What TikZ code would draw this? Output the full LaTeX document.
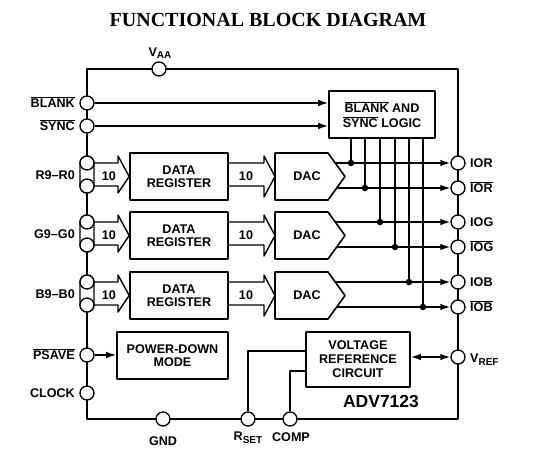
\documentclass[tikz,border=0pt]{standalone}
\usepackage{fontspec}
\setmainfont{Liberation Sans}
\newfontfamily\titlefont{Liberation Serif}
\usetikzlibrary{arrows.meta}
\newcommand{\ovl}[1]{$\overline{\mbox{#1}}$}
\newcommand{\pinsub}[1]{\raisebox{-0.45ex}{\fontsize{10}{10}\selectfont #1}}
\begin{document}
\begin{tikzpicture}[x=1pt, y=-1pt, line join=round, >={Latex[length=10pt,width=6.5pt]},
	font=\bfseries\fontsize{12.6}{13.5}\selectfont,
	pinc/.style={draw, circle, fill=white, line width=1.3pt, minimum size=14pt, inner sep=0pt},
	blk/.style={draw, line width=1.6pt, align=center, inner sep=0pt},
	wire/.style={line width=1.4pt},
	jdot/.style={circle, fill, inner sep=0pt, minimum size=6.5pt},
	lblL/.style={anchor=base east, inner sep=0pt},
	lblR/.style={anchor=base west, inner sep=0pt}]
	\useasboundingbox (0,0) rectangle (533,453);
	\def\L{87} % left side of chip
	\def\R{458} % right side of chip
	\def\T{69} % top
	\def\B{419} % bottom
	\node[anchor=base, font=\titlefont\bfseries\fontsize{20}{22}\selectfont] (title) at (268,26) {FUNCTIONAL BLOCK DIAGRAM};
	\draw[line width=2.8pt] (\L,\T) rectangle (\R,\B);
	% blocks
	\node[blk, minimum width=106pt, minimum height=47pt, font=\bfseries\fontsize{12.6}{15}\selectfont] (logic) at (382,114.5) {\ovl{BLANK} AND\\\ovl{SYNC} LOGIC};
	\node[blk, minimum width=111pt, minimum height=47pt] (pdown) at (172.5,355.5) {POWER-DOWN\\MODE};
	\node[blk, minimum width=104pt, minimum height=55pt, font=\bfseries\fontsize{12.6}{14}\selectfont] (vref) at (358,359.5) {VOLTAGE\\REFERENCE\\CIRCUIT};
	\node[anchor=base, font=\bfseries\fontsize{17.5}{18}\selectfont] (chip) at (381,407) {ADV7123};
	% rows R, G, B
	\foreach \t/\c/\xa/\xb in {153/R/351/365, 212/G/380/395, 272/B/409/423}{
		\node[blk, minimum width=98pt, minimum height=47pt] (reg\c) at (179,\t+23.5) {DATA\\REGISTER};
		\draw[line width=1.6pt] (275,\t) -- (328,\t) -- (345,\t+23.5) -- (328,\t+47) -- (275,\t+47) -- cycle;
		\node (dac\c) at (307,\t+23.5) {DAC};
		\coordinate (out\c a) at (335.2,\t+10);
		\coordinate (out\c b) at (336.7,\t+35);
		\draw[wire] (\L+7,\t+10) -- (118,\t+10) -- (118,\t+3) -- (reg\c.west) -- (118,\t+40) -- (118,\t+33) -- (\L+7,\t+33);
		\draw[wire] (reg\c.east |- 0,\t+10) -- (264,\t+10) -- (264,\t+3) -- (275,\t+23.5) -- (264,\t+44) -- (264,\t+33) -- (reg\c.east |- 0,\t+33);
		\path (109,\t+23.5) node (busA\c) {10}
			(246,\t+23.5) node (busB\c) {10};
		\node[draw, fill=white, line width=1.3pt, rounded corners=7pt, minimum width=14pt, minimum height=37pt, inner sep=0pt] (cap\c) at (\L,\t+21.5) {};
		\path (\L,\t+10) node[pinc] (in\c a) {}
			(\L,\t+33) node[pinc] (in\c b) {}
			(75,\t+26) node[lblL] (inL\c) {\c9–\c0};
		\path (\R,\t+10) node[pinc] (IO\c) {}
			(\R,\t+35) node[pinc] (nIO\c) {}
			(470,\t+14.5) node[lblR] (IOL\c) {IO\c}
			(470,\t+39.5) node[lblR] (nIOL\c) {\ovl{IO\c}};
		\draw[wire] (\xa,0 |- logic.south) -- (\xa,0 |- out\c a) node[jdot] (j\c a) {};
		\draw[wire] (\xb,0 |- logic.south) -- (\xb,0 |- out\c b) node[jdot] (j\c b) {};
		\draw[wire,->] (out\c a) -- (IO\c);
		\draw[wire,->] (out\c b) -- (nIO\c);
	}
	% other pins
	\path 
		(159,\T) node[pinc] (vaaP) {}
		(\L,103) node[pinc] (blankP) {}
		(\L,126) node[pinc] (syncP) {}
		(\L,355) node[pinc] (psaveP) {}
		(\L,393) node[pinc] (clockP) {}
		(163,\B) node[pinc] (gndP) {}
		(248,\B) node[pinc] (rsetP) {}
		(290,\B) node[pinc] (compP) {}
		(\R,357) node[pinc] (vrefP) {};
	\path 
		(160,56) node[anchor=base, inner sep=0pt] (vaaL) {V\pinsub{AA}}
		(75,107.5) node[lblL] (blankL) {\ovl{BLANK}}
		(75,130.5) node[lblL] (syncL) {\ovl{SYNC}}
		(75,359.5) node[lblL] (psaveL) {\ovl{PSAVE}}
		(75,397.5) node[lblL] (clockL) {CLOCK}
		(163,445) node[anchor=base, inner sep=0pt] (gndL) {GND}
		(248,440.5) node[anchor=base, inner sep=0pt] (rsetL) {R\pinsub{SET}}
		(291,441) node[anchor=base, inner sep=0pt] (compL) {COMP}
		(470,362.5) node[lblR] (vrefL) {V\pinsub{REF}};
	\coordinate (rsetK) at (248,351);
	\coordinate (compK) at (290,371);
	\draw[wire,->] (blankP) -- (logic.west |- blankP);
	\draw[wire,->] (syncP) -- (logic.west |- syncP);
	\draw[wire,->] (psaveP) -- (pdown.west |- psaveP);
	\draw[wire] (rsetP) -- (rsetK) -- (vref.west |- rsetK);
	\draw[wire] (compP) -- (compK) -- (vref.west |- compK);
	\draw[wire,<->] (vref.east |- vrefP) -- (vrefP);
\end{tikzpicture}
\end{document}
